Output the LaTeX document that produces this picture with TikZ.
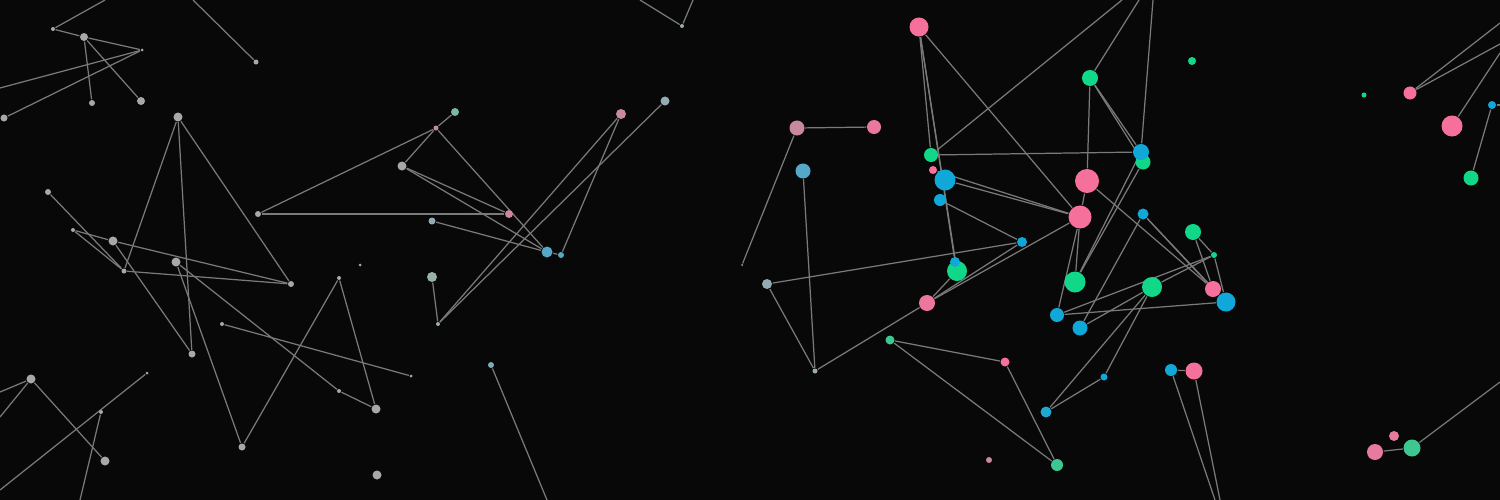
\documentclass[tikz,border=0pt]{standalone}
\usepackage{tikz}
\usepackage{xcolor}

\definecolor{bgcol}{HTML}{080808}
\definecolor{linkgray}{HTML}{7A7A7A}
\definecolor{gy}{HTML}{A8A8A8}
\definecolor{pk}{HTML}{F5709A}
\definecolor{gr}{HTML}{10D888}
\definecolor{bl}{HTML}{10A8D8}
\definecolor{pkm}{HTML}{C888A0}
\definecolor{grm}{HTML}{3CC890}
\definecolor{blm}{HTML}{55A8C8}
\definecolor{gyb}{HTML}{95ABB3}
\definecolor{gyg}{HTML}{98B0A6}

\pgfdeclarelayer{bg}
\pgfdeclarelayer{links}
\pgfsetlayers{bg,links,main}

\begin{document}
\begin{tikzpicture}
[x=0.01cm, y=-0.01cm,
% STYLES
% The particle style is used to draw each dot of the network
particle/.style={circle, inner sep=0pt, draw=none, fill=#1},
% The sz style gives the radius of a dot, in pixels
sz/.style={minimum size=#1*0.2mm},
% The link style is used for the thin lines between dots
link/.style={linkgray, line width=0.35pt}]

\useasboundingbox (0,0) rectangle (1500,500);
\begin{pgfonlayer}{bg}
\fill[bgcol] (0,0) rectangle (1500,500);
\end{pgfonlayer}

% Draw left particles
\node [particle=gy, sz=2] (l1) at (53,29) {};
\node [particle=gy, sz=4] (l2) at (84,37) {};
\node [particle=gy, sz=1.5] (l3) at (142,50) {};
\node [particle=gy, sz=2.5] (l4) at (256,62) {};
\node [particle=gy, sz=3] (l5) at (92,103) {};
\node [particle=gy, sz=4] (l6) at (141,101) {};
\node [particle=gy, sz=3.5] (l7) at (4,118) {};
\node [particle=gy, sz=4.5] (l8) at (178,117) {};
\node [particle=pkm, sz=2.5] (l9) at (436,128) {};
\node [particle=gyg!70!grm, sz=4] (l10) at (455,112) {};
\node [particle=gy, sz=4.5] (l11) at (402,166) {};
\node [particle=gy, sz=3] (l12) at (48,192) {};
\node [particle=gy, sz=3] (l13) at (258,214) {};
\node [particle=gyb, sz=3.5] (l14) at (432,221) {};
\node [particle=gy, sz=2] (l15) at (73,230) {};
\node [particle=gy, sz=4.5] (l16) at (113,241) {};
\node [particle=gy, sz=4.5] (l17) at (176,262) {};
\node [particle=gy, sz=2.5] (l18) at (124,271) {};
\node [particle=gy, sz=3.5] (l19) at (192,354) {};
\node [particle=gy, sz=3] (l20) at (291,284) {};
\node [particle=gy, sz=3.5] (l21) at (242,447) {};
\node [particle=gy, sz=2] (l22) at (339,278) {};
\node [particle=gy, sz=4.5] (l23) at (376,409) {};
\node [particle=gy, sz=2] (l24) at (339,391) {};
\node [particle=gy, sz=2] (l25) at (222,324) {};
\node [particle=gy, sz=1.5] (l26) at (411,376) {};
\node [particle=gy, sz=1.5] (l27) at (360,265) {};
\node [particle=gy, sz=4.5] (l28) at (377,475) {};
\node [particle=gy, sz=4.5] (l29) at (31,379) {};
\node [particle=gy, sz=4.5] (l30) at (105,461) {};
\node [particle=gy, sz=1.5] (l31) at (147,373) {};
\node [particle=gy, sz=2] (l32) at (101,412) {};
\node [particle=gyg, sz=5] (l33) at (432,277) {};
\node [particle=gyg, sz=2] (l34) at (438,324) {};
\node [particle=gyb!70!blm, sz=3] (l35) at (491,365) {};

% Draw middle particles
\node [particle=gyb, sz=2] (m1) at (682,26) {};
\node [particle=pkm, sz=5] (m2) at (621,114) {};
\node [particle=gyb, sz=4.5] (m3) at (665,101) {};
\node [particle=blm, sz=5.5] (m4) at (547,252) {};
\node [particle=blm, sz=3] (m5) at (561,255) {};
\node [particle=pkm, sz=4] (m6) at (509,214) {};
\node [particle=pkm, sz=7.5] (m7) at (797,128) {};
\node [particle=pk!85!gy, sz=7] (m8) at (874,127) {};
\node [particle=gy, sz=1] (m9) at (742,265) {};
\node [particle=blm, sz=7.5] (m10) at (803,171) {};
\node [particle=gyb, sz=5] (m11) at (767,284) {};
\node [particle=gyg, sz=2.5] (m12) at (815,371) {};

% Draw right particles
\node [particle=pk, sz=9.5] (r1) at (919,27) {};
\node [particle=gr, sz=8] (r2) at (1090,78) {};
\node [particle=gr, sz=4] (r3) at (1192,61) {};
\node [particle=gr, sz=7] (r4) at (931,155) {};
\node [particle=pk, sz=4] (r5) at (933,170) {};
\node [particle=bl, sz=10.5] (r6) at (945,180) {};
\node [particle=bl, sz=6] (r7) at (940,200) {};
\node [particle=gr, sz=7.5] (r9) at (1143,162) {};
\node [particle=bl, sz=8] (r8) at (1141,152) {};
\node [particle=pk, sz=12] (r10) at (1087,181) {};
\node [particle=pk, sz=11.5] (r11) at (1080,217) {};
\node [particle=bl, sz=5.5] (r12) at (1143,214) {};
\node [particle=gr, sz=8] (r13) at (1193,232) {};
\node [particle=bl, sz=5] (r14) at (1022,242) {};
\node [particle=gr, sz=10] (r16) at (957,271) {};
\node [particle=bl, sz=5] (r15) at (955,262) {};
\node [particle=pk!90!gy, sz=8] (r17) at (927,303) {};
\node [particle=gr, sz=10.5] (r18) at (1075,282) {};
\node [particle=gr, sz=3] (r19) at (1214,255) {};
\node [particle=gr, sz=10] (r20) at (1152,287) {};
\node [particle=pk, sz=8] (r21) at (1213,289) {};
\node [particle=bl, sz=9.5] (r22) at (1226,302) {};
\node [particle=bl, sz=7] (r23) at (1057,315) {};
\node [particle=bl, sz=7.5] (r24) at (1080,328) {};
\node [particle=grm, sz=4.5] (r25) at (890,340) {};
\node [particle=pk, sz=4.5] (r26) at (1005,362) {};
\node [particle=bl, sz=3.5] (r27) at (1104,377) {};
\node [particle=bl!90!gy, sz=5.5] (r28) at (1046,412) {};
\node [particle=bl, sz=6] (r29) at (1171,370) {};
\node [particle=pk, sz=8.5] (r30) at (1194,371) {};
\node [particle=pkm, sz=3] (r31) at (989,460) {};
\node [particle=grm, sz=6] (r32) at (1057,465) {};

% Draw far right particles
\node [particle=gr, sz=2.5] (f1) at (1364,95) {};
\node [particle=pk, sz=6.5] (f2) at (1410,93) {};
\node [particle=pk, sz=10.5] (f3) at (1452,126) {};
\node [particle=bl, sz=4] (f4) at (1492,105) {};
\node [particle=gr, sz=7.5] (f5) at (1471,178) {};
\node [particle=pk!80!gy, sz=8] (f6) at (1375,452) {};
\node [particle=pk!80!gy, sz=5] (f7) at (1394,436) {};
\node [particle=grm, sz=8.5] (f8) at (1412,448) {};

%%%%%%%%%%%%%%%
% Free ends of the lines that leave the picture
\coordinate (l1out) at (105,0);
\coordinate (l3out) at (0,88);
\coordinate (l4out) at (193,0);
\coordinate (l29out) at (0,392);
\coordinate (l29low) at (0,417);
\coordinate (l31out) at (0,490);
\coordinate (l32out) at (80,500);
\coordinate (l35out) at (547,500);
\coordinate (m1left) at (640,0);
\coordinate (m1right) at (693,0);
\coordinate (r4out) at (1122,0);
\coordinate (r2out) at (1139,0);
\coordinate (r8out) at (1153,0);
\coordinate (r29out) at (1215,500);
\coordinate (r30out) at (1220,500);
\coordinate (f2high) at (1500,23);
\coordinate (f2low) at (1500,44);
\coordinate (f3out) at (1500,53);
\coordinate (f4out) at (1500,105);
\coordinate (f8out) at (1500,382);
%%%%%%%%%%%%%%%

% Draw the links between particles
\begin{pgfonlayer}{links}
\path[link]
(l1) edge (l1out)
(l1) edge (l2)
(l2) edge (l3)
(l3) edge (l3out)
(l3) edge (l7)
(l2) edge (l5)
(l2) edge (l6)
(l4) edge (l4out)
(l8) edge (l18)
(l8) edge (l19)
(l8) edge (l20)
(l10) edge (l9)
(l9) edge (l11)
(l9) edge (l13)
(l9) edge (m4)
(l11) edge (m6)
(l11) edge (m4)
(l13) edge (m6)
(l14) edge (m4)
(l12) edge (l18)
(l15) edge (l18)
(l15) edge (l16)
(l16) edge (l20)
(l16) edge (l19)
(l18) edge (l20)
(l17) edge (l21)
(l17) edge (l24)
(l21) edge (l22)
(l22) edge (l23)
(l23) edge (l24)
(l25) edge (l26)
(l29) edge (l29out)
(l29) edge (l29low)
(l29) edge (l30)
(l31) edge (l31out)
(l32) edge (l32out)
(l33) edge (l34)
(l34) edge (m2)
(l34) edge (m3)
(l35) edge (l35out);

\path[link]
(m1) edge (m1left)
(m1) edge (m1right)
(m2) edge (m5)
(m4) edge (m5)
(m7) edge (m8)
(m7) edge (m9)
(m10) edge (m12)
(m11) edge (r14)
(m11) edge (m12)
(m12) edge (r17);

\path[link]
(r4) edge (r4out)
(r2) edge (r2out)
(r8) edge (r8out)
(r1) edge (r11)
(r1) edge (r4)
(r1) edge (r15)
(r1) edge (r16)
(r4) edge (r8)
(r5) edge (r11)
(r6) edge (r11)
(r7) edge (r14)
(r11) edge (r17)
(r14) edge (r17)
(r17) edge (r16)
(r11) edge (r10)
(r2) edge (r10)
(r2) edge (r8)
(r2) edge (r9)
(r10) edge (r21)
(r12) edge (r21)
(r12) edge (r22)
(r12) edge (r24)
(r8) edge (r18)
(r9) edge (r18)
(r11) edge (r18)
(r11) edge (r23)
(r23) edge (r19)
(r23) edge (r22)
(r20) edge (r19)
(r20) edge (r24)
(r20) edge (r28)
(r20) edge (r27)
(r27) edge (r28)
(r13) edge (r21)
(r13) edge (r19)
(r19) edge (r22)
(r25) edge (r26)
(r25) edge (r32)
(r26) edge (r32)
(r29) edge (r30)
(r29) edge (r29out)
(r30) edge (r30out);

\path[link]
(f2) edge (f2high)
(f2) edge (f2low)
(f3) edge (f3out)
(f4) edge (f4out)
(f4) edge (f5)
(f6) edge (f8)
(f8) edge (f8out);
\end{pgfonlayer}

\end{tikzpicture}
\end{document}
